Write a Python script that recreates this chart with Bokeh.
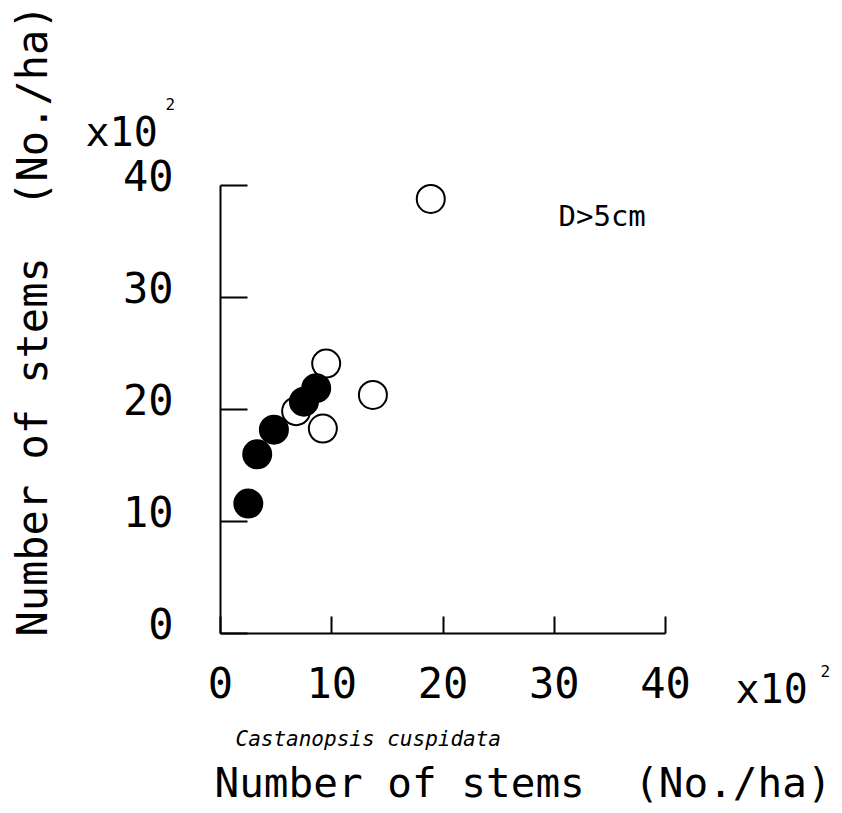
from bokeh.plotting import figure
from bokeh.models import Range1d, FixedTicker, Label, LinearAxis
from bokeh.embed import file_html
from bokeh.resources import INLINE

# ---- data (x10^2 stems/ha) ----
open_x = [18.9, 9.5, 13.7, 9.2, 6.8]
open_y = [38.8, 24.1, 21.3, 18.3, 19.85]
filled_x = [8.6, 7.5, 4.8, 3.3, 2.5]
filled_y = [21.9, 20.7, 18.2, 16.0, 11.6]
x_ticks = [0, 10, 20, 30, 40]
y_ticks = [0, 10, 20, 30, 40]
NBSP = "\u00a0"
x_title = "Number of stems" + NBSP * 2 + "(No./ha)"
x_subtitle = "Castanopsis cuspidata"
y_title = "Number of stems" + NBSP * 2 + "(No./ha)"
note_text = "D>5cm"

FONT = "DejaVu Sans Mono"
W, H = 842, 813
# pixel position of the axes' corner and of value 40 on each axis
X0, X40 = 220.0, 665.0
Y0, Y40 = 633.0, 185.0
sx = (X40 - X0) / 40.0
sy = (Y0 - Y40) / 40.0

p = figure(width=W, height=H, output_backend="svg", toolbar_location=None,
           x_range=Range1d(-X0 / sx, (W - X0) / sx),
           y_range=Range1d(-(H - Y0) / sy, Y0 / sy),
           min_border=0, min_border_left=0, min_border_right=0,
           min_border_top=0, min_border_bottom=0)
p.outline_line_color = None
p.grid.visible = False
p.background_fill_color = "white"
p.border_fill_color = "white"

# label-only y axis, lifted a little as in the original
lift = 10.0 / sy
p.extra_y_ranges = {"ylab": Range1d(p.y_range.start - lift, p.y_range.end - lift)}
ylab_axis = LinearAxis(y_range_name="ylab")
p.add_layout(ylab_axis, "left")

for ax, tks, tin, stand in ((p.xaxis[0], x_ticks, 17, 33),
                            (p.yaxis[0], y_ticks, 27, 47),
                            (ylab_axis, y_ticks, 27, 47)):
    ax.fixed_location = 0
    ax.bounds = (0, 40)
    ax.ticker = FixedTicker(ticks=tks)
    ax.axis_line_width = 2
    ax.axis_line_color = "black"
    ax.major_tick_line_width = 2
    ax.major_tick_line_color = "black"
    ax.major_tick_in = tin
    ax.major_tick_out = 0
    ax.minor_tick_line_color = None
    ax.major_label_text_font = FONT
    ax.major_label_text_font_size = "42px"
    ax.major_label_text_color = "black"
    ax.major_label_standoff = stand

p.yaxis[0].major_label_text_color = None
ylab_axis.bounds = (0 - lift, 40 - lift)
ylab_axis.axis_line_color = None
ylab_axis.major_tick_line_color = None

p.scatter(open_x, open_y, size=28, marker="circle", fill_color="white",
          line_color="black", line_width=2)
p.scatter(filled_x, filled_y, size=28, marker="circle", fill_color="black",
          line_color="black", line_width=2)

def lab(x, y, text, size, angle=0.0, **kw):
    # x, y: pixel position (from the canvas top-left) of the text baseline
    shift = 0.42 * size
    if angle:
        x = x - shift
    else:
        y = y - shift
    p.add_layout(Label(x=x, y=H - y, x_units="screen", y_units="screen", text=text,
                       text_font=FONT, text_font_size=f"{size}px", text_color="black",
                       text_baseline="alphabetic", angle=angle, **kw))

lab(558, 228, note_text, 29, text_align="left")
lab(735, 705, "x10", 40, text_align="left")
lab(820, 677, "2", 16, text_align="left")
lab(85, 148, "x10", 40, text_align="left")
lab(165, 110, "2", 16, text_align="left")
lab(235, 747, x_subtitle, 21, text_align="left", text_font_style="italic")
lab(214, 800, x_title, 41, text_align="left")
lab(50, 320, y_title, 42, angle=1.5707963, text_align="center")

open("out.html", "w").write(file_html(p, INLINE))
